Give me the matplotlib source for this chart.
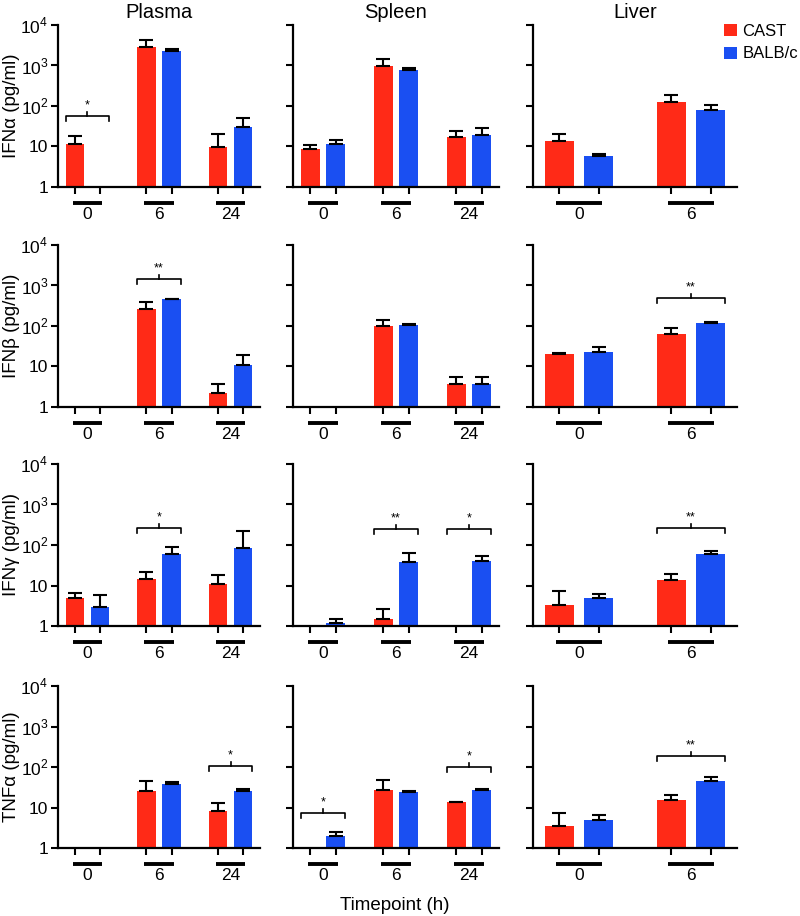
import numpy as np
import matplotlib.pyplot as plt
from matplotlib.patches import Patch
from matplotlib.transforms import blended_transform_factory

plt.rcParams['font.family'] = ['Liberation Sans', 'DejaVu Sans']
plt.rcParams['mathtext.fontset'] = 'custom'
plt.rcParams['mathtext.rm'] = 'Liberation Sans'

tissues = ['Plasma', 'Spleen', 'Liver']
timepoints = [['0', '6', '24'], ['0', '6', '24'], ['0', '6']]
cytokines = ['IFN\u03b1', 'IFN\u03b2', 'IFN\u03b3', 'TNF\u03b1']
nan = np.nan

# means and upper error (mean + SD), per tissue
ifna_cast = [[11.4, 2800, 9.8], [8.6, 960, 17], [13.9, 123]]
ifna_cast_top = [[18, 4150, 20], [11, 1420, 24], [20, 182]]
ifna_balb = [[nan, 2220, 30.7], [11.4, 760, 19.6], [5.85, 80]]
ifna_balb_top = [[nan, 2520, 52], [14.3, 850, 28.5], [6.5, 106]]

ifnb_cast = [[nan, 265, 2.27], [nan, 100, 3.65], [20.6, 65]]
ifnb_cast_top = [[nan, 400, 3.65], [nan, 140, 5.5], [21.8, 89]]
ifnb_balb = [[nan, 460, 11], [nan, 106, 3.65], [23, 119]]
ifnb_balb_top = [[nan, 470, 19.5], [nan, 112, 5.5], [30, 126]]

ifng_cast = [[4.85, 14.6, 10.6], [nan, 1.46, nan], [3.38, 14]]
ifng_cast_top = [[6.7, 21.8, 18.4], [nan, 2.68, nan], [7.5, 19.4]]
ifng_balb = [[2.9, 61, 84], [1.2, 38.8, 40], [5.0, 60]]
ifng_balb_top = [[5.76, 89, 226], [1.5, 62, 53], [6.3, 72]]

tnfa_cast = [[nan, 25, 8.4], [nan, 27, 13.5], [3.45, 14.9]]
tnfa_cast_top = [[nan, 45, 12.6], [nan, 48, 14], [7.5, 20.6]]
tnfa_balb = [[nan, 38, 26], [1.95, 23.6, 27], [5.0, 45.7]]
tnfa_balb_top = [[nan, 43, 29], [2.54, 25.4, 29], [6.45, 56]]

cast_means = [ifna_cast, ifnb_cast, ifng_cast, tnfa_cast]
cast_tops = [ifna_cast_top, ifnb_cast_top, ifng_cast_top, tnfa_cast_top]
balb_means = [ifna_balb, ifnb_balb, ifng_balb, tnfa_balb]
balb_tops = [ifna_balb_top, ifnb_balb_top, ifng_balb_top, tnfa_balb_top]

# significance: (row, tissue, timepoint index, bracket level, label)
signif = [(0, 0, 0, 58, '*'),
          (1, 0, 1, 1435, '**'),
          (1, 2, 1, 490, '**'),
          (2, 0, 1, 269, '*'),
          (2, 1, 1, 245, '**'),
          (2, 1, 2, 245, '*'),
          (2, 2, 1, 270, '**'),
          (3, 0, 2, 106, '*'),
          (3, 1, 0, 7.4, '*'),
          (3, 1, 2, 100, '*'),
          (3, 2, 1, 187, '**')]

red = '#ff2a17'
blue = '#1a4ff2'
W, H = 800, 916
col_left = [58, 293, 533]
col_width = [202, 206, 204]
row_top = [25, 245, 464, 686]
ax_h = 162
off = 0.175
bw = 0.26

fig = plt.figure(figsize=(W / 100, H / 100), dpi=100)
axes = {}
for r in range(4):
    for c in range(3):
        ax = fig.add_axes([col_left[c] / W, 1 - (row_top[r] + ax_h) / H,
                           col_width[c] / W, ax_h / H])
        axes[(r, c)] = ax
        ax.set_yscale('log')
        n = len(timepoints[c])
        x = np.arange(n)
        cm = np.array(cast_means[r][c], dtype=float)
        ct = np.array(cast_tops[r][c], dtype=float)
        bm = np.array(balb_means[r][c], dtype=float)
        bt = np.array(balb_tops[r][c], dtype=float)
        for xs, m, t, col in [(x - off, cm, ct, red), (x + off, bm, bt, blue)]:
            ok = ~np.isnan(m)
            ax.bar(xs[ok], m[ok], width=bw, color=col, edgecolor='none', zorder=2)
            ax.errorbar(xs[ok], m[ok], yerr=[np.zeros(ok.sum()), t[ok] - m[ok]],
                        fmt='none', ecolor='black', elinewidth=1.5, capsize=5,
                        capthick=1.5, zorder=3)
        ax.set_ylim(1, 1e4)
        ax.set_xlim(-0.41, n - 1 + 0.41)
        ax.set_yticks([1, 10, 100, 1000, 10000])
        ax.yaxis.set_minor_locator(plt.NullLocator())
        if c == 0:
            ax.set_yticklabels(['1', '10', '$10^2$', '$10^3$', '$10^4$'], fontsize=12.5)
        else:
            ax.set_yticklabels([])
        ax.set_xticks(np.concatenate([x - off, x + off]))
        ax.set_xticklabels([])
        ax.tick_params(axis='y', direction='out', length=5, width=1.5, pad=2)
        ax.tick_params(axis='x', direction='out', length=5, width=1.5)
        for s in ['top', 'right']:
            ax.spines[s].set_visible(False)
        for s in ['left', 'bottom']:
            ax.spines[s].set_linewidth(1.6)
        tr = blended_transform_factory(ax.transData, ax.transAxes)
        for i, lab in enumerate(timepoints[c]):
            ax.plot([i - off - 0.03, i + off + 0.03], [-0.1, -0.1], color='black',
                    lw=2.8, transform=tr, clip_on=False, solid_capstyle='butt')
            ax.text(i, -0.168, lab, transform=tr, ha='center', va='center', fontsize=12.5)
        if r == 0:
            ax.set_title(tissues[c], fontsize=14.5, pad=5)
    fig.text(12 / W, 1 - (row_top[r] + ax_h / 2) / H, cytokines[r] + ' (pg/ml)',
             rotation=90, ha='center', va='center', fontsize=13.5)

for r, c, g, level, lab in signif:
    ax = axes[(r, c)]
    x0, x1 = g - off - bw / 2, g + off + bw / 2
    drop = 10 ** (5 / 40.5)
    rise = 10 ** (4 / 40.5)
    ax.plot([x0, x0, x1, x1], [level / drop, level, level, level / drop],
            color='black', lw=1.2, clip_on=False)
    ax.plot([g, g], [level, level * rise], color='black', lw=1.2, clip_on=False)
    ax.text(g, level * rise * 1.02, lab, ha='center', va='bottom', fontsize=9)

fig.text(395 / W, 1 - 906 / H, 'Timepoint (h)', ha='center', va='center', fontsize=13.5)

handles = [Patch(facecolor=red, edgecolor='none'), Patch(facecolor=blue, edgecolor='none')]
fig.legend(handles, ['CAST', 'BALB/c'], loc='upper left',
           bbox_to_anchor=(724 / W, 1 - 24 / H), frameon=False, fontsize=12,
           handlelength=0.75, handleheight=0.75, handletextpad=0.35, labelspacing=0.45,
           borderaxespad=0, borderpad=0)

fig.savefig('out.png', dpi=100)
